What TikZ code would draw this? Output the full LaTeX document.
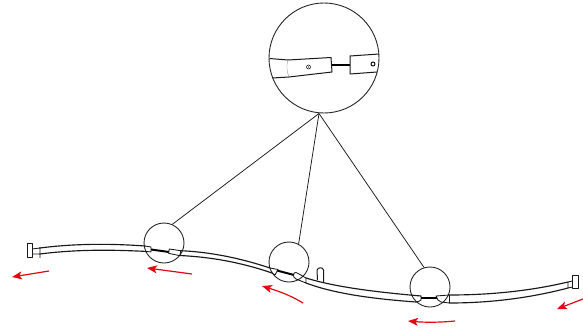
\documentclass[tikz,border=0pt]{standalone}
\usetikzlibrary{arrows.meta}
\definecolor{arrowred}{HTML}{E30613}
\tikzset{
  lens/.style={draw=black!85,circle,line width=0.9pt,inner sep=0pt,fill=none},
  leader/.style={draw=black!90,line width=0.75pt},
  rail/.style={draw=black!90,line width=1.15pt,line cap=round,line join=round},
  thinpart/.style={draw=black!90,line width=0.85pt,line join=round},
  bar/.style={draw=black,line width=2pt},
  flow/.style={draw=arrowred,line width=1.2pt,-{Stealth[length=10pt,width=8pt,inset=2.5pt]}}
}
\begin{document}
\begin{tikzpicture}[x=1pt,y=-1pt]
\useasboundingbox (0,0) rectangle (583,329);
% lenses
\node[lens,minimum size=110pt] (big) at (324,58) {};
\node[lens,minimum size=40pt] (c1) at (164,243) {};
\node[lens,minimum size=40pt] (c2) at (289,262) {};
\node[lens,minimum size=40pt] (c3) at (430,287) {};
\coordinate (hub) at (319,113.5);
\draw[leader] (hub) -- (c1.66);
\draw[leader] (hub) -- (c2.62);
\draw[leader] (hub) -- (c3.107);
% enlarged detail
\draw[thinpart,line width=1pt] (269.5,58.5) -- (288,60) (272,78) -- (289,77);
\draw[thinpart,line width=0.3pt,draw=black!50] (288,60) .. controls (286,66) and (287,72) .. (289,77);
\draw[thinpart,line width=1pt] (288,60) -- (331,57.5) -- (332,72) -- (289,77);
\draw[bar,line width=2.6pt] (332,65) -- (350,65);
\draw[thinpart,line width=1pt] (379,54) -- (350,56) -- (350,74) -- (377,72);
\draw[line width=0.9pt] (373,64) circle (2pt);
\draw[line width=0.5pt] (308.5,67) circle (2pt);
\fill (308.5,67) circle (0.7pt);
% rail, left segment
\draw[rail] (40,248) .. controls (75,243.5) and (110,243.5) .. (145,246);
\draw[rail] (40,254) .. controls (75,249.5) and (110,249.5) .. (147,251.5);
\draw[thinpart,line width=1pt] (27,243) rectangle (32,257);
\draw[thinpart] (32,249) -- (40,248) (32,254) -- (40,254) (40,247) -- (40,258);
% joint in lens 1
\draw[thinpart] (145,246) -- (151,247) -- (151,252) -- (147,251.5);
\draw[bar] (151,249.5) -- (169,252);
\draw[thinpart] (169.3,249) -- (180.7,250.7) -- (180,255.7) -- (168.5,253.3) -- cycle;
% rail, middle segment
\draw[rail] (180.7,250.7) .. controls (210,252) and (240,258) .. (270,268);
\draw[rail] (180,255.5) .. controls (210,257) and (240,262) .. (272,273);
% joint in lens 2
\draw[thinpart] (270,268) -- (278,269.5) -- (275,275) -- (272,273);
\draw[bar] (277,270.5) -- (294,275);
\draw[thinpart] (296,272.5) -- (299,274) -- (306,278) -- (306,283) -- (296,279) .. controls (292,277) and (293,272) .. (296,272.5);
% rail, right segment
\draw[rail] (306,278) .. controls (335,287) and (375,292) .. (421,296);
\draw[rail] (306,283) .. controls (335,294) and (375,299) .. (416,302);
\draw[thinpart,line width=1pt] (317.5,280) -- (317,270) .. controls (318,267) and (323,267) .. (323.5,270) -- (323.5,282);
% joint in lens 3
\draw[thinpart] (421,296) -- (421,300) .. controls (420,301) and (418,302) .. (416,302);
\draw[bar] (421,298.3) -- (436.5,298.3);
\draw[thinpart] (449.5,295) -- (436,296) .. controls (437,299) and (438,301) .. (441,302) -- (449.5,303);
% rail, far right segment
\draw[rail] (449.5,295) .. controls (490,295) and (530,291) .. (568,282);
\draw[rail] (449.5,303) .. controls (490,303) and (530,298) .. (568,288);
\draw[thinpart] (449.5,295) -- (449.5,303);
\draw[thinpart,line width=1pt] (572.5,275) rectangle (578,288);
\draw[thinpart] (568,282) -- (568,288) (568,282) -- (572.5,281) (568,288) -- (572.5,287);
% arrows
\draw[flow] (49,271) -- (12,277);
\draw[flow] (192,274) -- (147,268);
\draw[flow] (303,303) .. controls (290,295) and (278,291) .. (262,286);
\draw[flow] (455,321) .. controls (440,322.5) and (425,322.5) .. (408,321);
\draw[flow] (583,299) -- (557,309);
\end{tikzpicture}
\end{document}
